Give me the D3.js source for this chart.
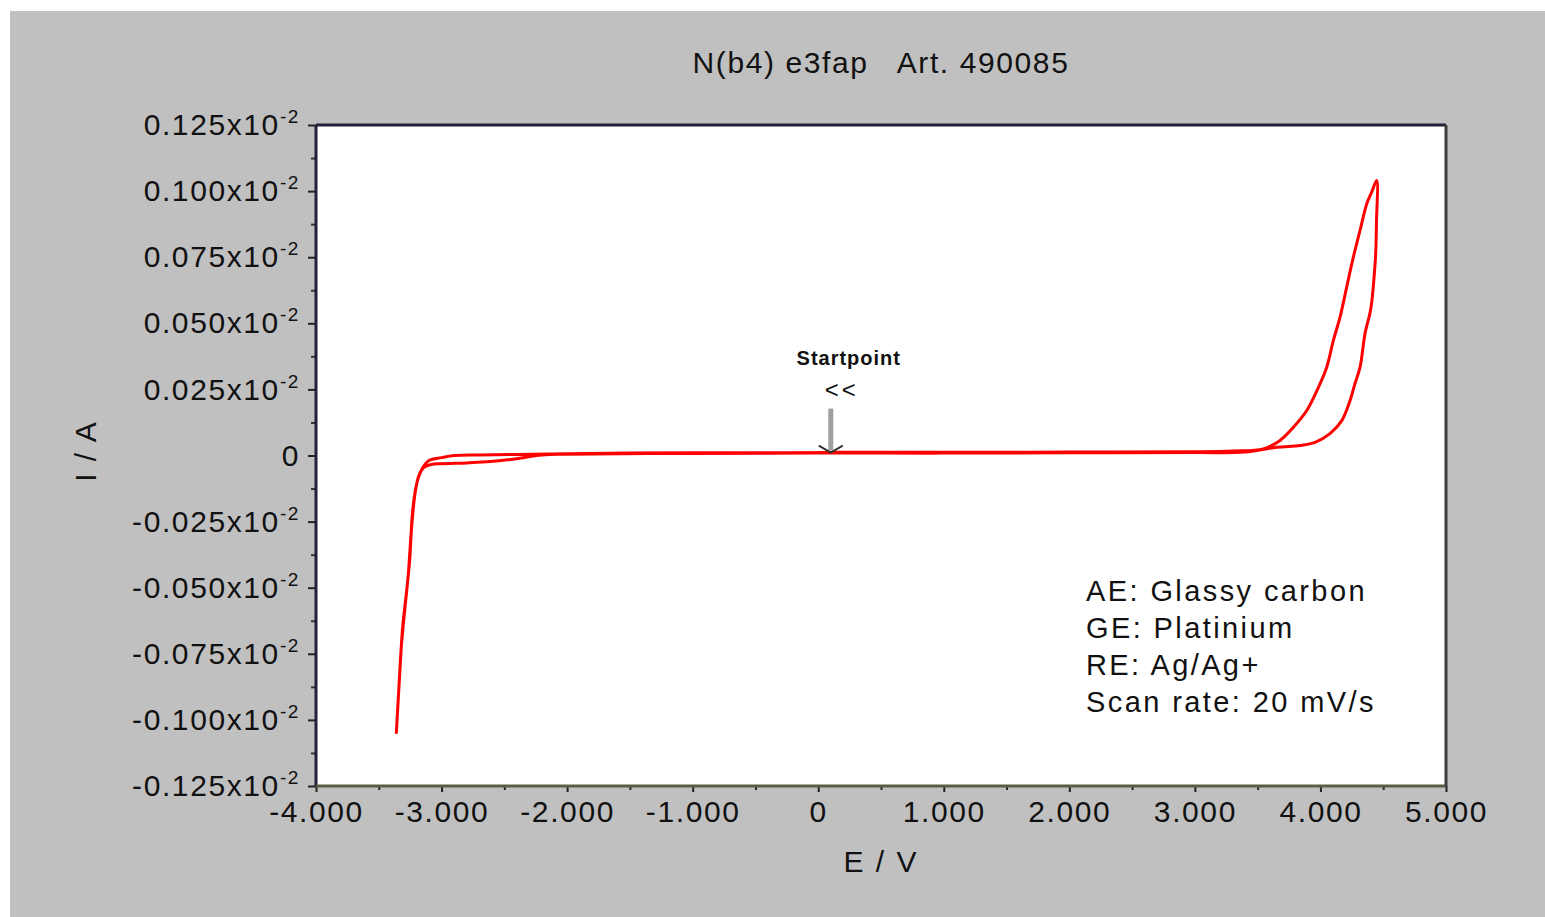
<!DOCTYPE html>
<html>
<head>
<meta charset="utf-8">
<script src="https://cdn.jsdelivr.net/npm/d3@7"></script>
<style>
  body { margin: 0; background: #fff; }
  text { font-family: "Liberation Sans", Arial, sans-serif; fill: #111; }
</style>
</head>
<body>
<script>
// --- data (current in units of 10^-2 A) ---
const title = "N(b4) e3fap   Art. 490085";
const xLabel = "E / V";
const yLabel = "I / A";
const legendLines = ["AE: Glassy carbon", "GE: Platinium", "RE: Ag/Ag+", "Scan rate: 20 mV/s"];
const startLabel = "Startpoint";
const startE = 0.1;

const xTicks = [-4, -3, -2, -1, 0, 1, 2, 3, 4, 5];
const yTicks = [-0.125, -0.1, -0.075, -0.05, -0.025, 0, 0.025, 0.05, 0.075, 0.1, 0.125];

// potential (V) along the sweep: start -> cathodic vertex -> anodic vertex -> start
const potential = [
  0.1, -0.5, -1.0, -1.5, -2.0, -2.4, -2.7, -2.9, -3.0, -3.1, -3.155, -3.195, -3.23, -3.254, -3.28, -3.31, -3.33, -3.36,
  -3.34, -3.32, -3.29, -3.265, -3.24, -3.21, -3.18, -3.14, -3.08, -3.01, -2.8, -2.67, -2.45, -2.2, -2.0, -1.0, 0, 1.0, 2.0, 3.0, 3.4,
  3.652, 3.838, 3.957, 4.076, 4.17, 4.236, 4.275, 4.315, 4.355, 4.395, 4.41, 4.425, 4.44, 4.446, 4.448,
  4.408, 4.369, 4.315, 4.262, 4.209, 4.156, 4.103, 4.05, 3.984, 3.891, 3.785, 3.678, 3.545, 3.3, 3.0, 2.0, 1.0, 0.1
];
const current = [
  0.0011, 0.0010, 0.0010, 0.0009, 0.0007, 0.0004, 0.0002, 0.0000, -0.0008, -0.0019, -0.0050, -0.0101, -0.0208, -0.0397, -0.052, -0.065, -0.080, -0.1048,
  -0.088, -0.072, -0.057, -0.045, -0.028, -0.014, -0.0075, -0.0045, -0.0034, -0.0031, -0.0028, -0.0025, -0.0015, 0.0002, 0.0005, 0.0008, 0.0009, 0.0009, 0.0010, 0.0011, 0.0013,
  0.0031, 0.0038, 0.0050, 0.0083, 0.0132, 0.0208, 0.0272, 0.0333, 0.0461, 0.0540, 0.0586, 0.0662, 0.0764, 0.0880, 0.1040,
  0.0996, 0.0952, 0.0851, 0.0750, 0.0637, 0.0523, 0.0435, 0.0334, 0.0258, 0.0170, 0.0107, 0.0057, 0.0025, 0.0017, 0.0014, 0.0013, 0.0012, 0.0012
];

// --- canvas ---
const canvWidth = 1545, canvHeight = 917;
const margin = {top: 125, right: 99, bottom: 131, left: 316};
const width = canvWidth - margin.left - margin.right;
const height = canvHeight - margin.top - margin.bottom;

const svg = d3.select("body").append("svg")
    .attr("width", canvWidth)
    .attr("height", canvHeight);

// grey panel
svg.append("rect")
    .attr("x", 10).attr("y", 11)
    .attr("width", canvWidth - 10).attr("height", canvHeight - 11)
    .attr("fill", "#c0c0c0");

const g = svg.append("g")
    .attr("transform", "translate(" + margin.left + "," + margin.top + ")");

// plot area
g.append("rect")
    .attr("width", width).attr("height", height)
    .attr("fill", "#fff");

const xScale = d3.scaleLinear().domain([-4, 5]).range([0, width]);
const yScale = d3.scaleLinear().domain([-0.125, 0.125]).range([height, 0]);

// minor ticks
g.append("g")
    .call(d3.axisLeft(yScale).tickValues(d3.range(-0.1125, 0.125, 0.025)).tickSize(5).tickFormat(""))
    .call(a => a.select(".domain").remove())
    .selectAll("line").attr("stroke", "#333").attr("stroke-width", 2);
g.append("g")
    .attr("transform", "translate(0," + height + ")")
    .call(d3.axisBottom(xScale).tickValues(d3.range(-3.5, 5, 1)).tickSize(4).tickFormat(""))
    .call(a => a.select(".domain").remove())
    .selectAll("line").attr("stroke", "#222").attr("stroke-width", 2);

// y axis
const yAxis = g.append("g")
    .call(d3.axisLeft(yScale).tickValues(yTicks).tickSize(8).tickPadding(8));
yAxis.select(".domain").remove();
yAxis.selectAll("line").attr("stroke", "#222").attr("stroke-width", 2);
yAxis.selectAll("text")
    .attr("font-size", 30)
    .attr("fill", "#111")
    .style("letter-spacing", "1.6px")
    .attr("font-family", null)
    .each(function(d) {
        const t = d3.select(this).text(null);
        if (Math.abs(d) < 1e-9) { t.text("0"); return; }
        t.append("tspan").text(d.toFixed(3) + "x10");
        t.append("tspan").attr("font-size", 19).attr("dy", -12).text("-2");
    });

// x axis
const xAxis = g.append("g")
    .attr("transform", "translate(0," + height + ")")
    .call(d3.axisBottom(xScale).tickValues(xTicks).tickSize(6).tickPadding(9)
        .tickFormat(d => d === 0 ? "0" : d.toFixed(3)));
xAxis.select(".domain").remove();
xAxis.selectAll("line").attr("stroke", "#222").attr("stroke-width", 2);
xAxis.selectAll("text")
    .attr("font-size", 30)
    .attr("fill", "#111")
    .attr("font-family", null)
    .style("letter-spacing", "1.6px");

// frame
g.append("line").attr("x1", 0).attr("x2", width).attr("y1", 0).attr("y2", 0)
    .attr("stroke", "#20203a").attr("stroke-width", 3);
g.append("line").attr("x1", 0).attr("x2", 0).attr("y1", 0).attr("y2", height)
    .attr("stroke", "#20203a").attr("stroke-width", 3);
g.append("line").attr("x1", 0).attr("x2", width).attr("y1", height).attr("y2", height)
    .attr("stroke", "#5e5c44").attr("stroke-width", 3);
g.append("line").attr("x1", width).attr("x2", width).attr("y1", 0).attr("y2", height)
    .attr("stroke", "#3a3f3a").attr("stroke-width", 3);

// CV curve
const line = d3.line()
    .x((d, i) => xScale(potential[i]))
    .y((d, i) => yScale(current[i]))
    .curve(d3.curveCatmullRom.alpha(0.5));
g.append("path")
    .datum(potential)
    .attr("fill", "none")
    .attr("stroke", "#ff0000")
    .attr("stroke-width", 3)
    .attr("stroke-linejoin", "round")
    .attr("d", line);

// start point annotation
const sx = xScale(startE), sy = yScale(current[0]);
g.append("line")
    .attr("x1", sx).attr("x2", sx).attr("y1", sy - 44).attr("y2", sy - 2)
    .attr("stroke", "#a0a0a0").attr("stroke-width", 5);
g.append("path")
    .attr("d", "M" + (sx - 12) + "," + (sy - 7) + "L" + sx + "," + (sy) + "L" + (sx + 12) + "," + (sy - 7))
    .attr("fill", "none").attr("stroke", "#333").attr("stroke-width", 2);
g.append("text")
    .attr("x", sx + 18).attr("y", sy - 88)
    .attr("text-anchor", "middle")
    .attr("font-size", 20).attr("font-weight", "bold")
    .style("letter-spacing", "1px")
    .text(startLabel);
g.append("text")
    .attr("x", sx + 11).attr("y", sy - 55)
    .attr("text-anchor", "middle")
    .attr("font-size", 24)
    .style("letter-spacing", "3px")
    .text("<<");

// legend text
g.selectAll(".legend")
    .data(legendLines)
    .enter().append("text")
    .attr("class", "legend")
    .attr("x", 770)
    .attr("y", (d, i) => 476 + i * 37)
    .attr("font-size", 29)
    .style("letter-spacing", "2.4px")
    .text(d => d);

// title
svg.append("text")
    .attr("x", margin.left + width / 2)
    .attr("y", 73)
    .attr("text-anchor", "middle")
    .attr("font-size", 30)
    .style("letter-spacing", "1.6px")
    .style("white-space", "pre")
    .text(title);

// axis labels
g.append("text")
    .attr("x", width / 2)
    .attr("y", height + 86)
    .attr("text-anchor", "middle")
    .attr("font-size", 30)
    .style("letter-spacing", "2px")
    .text(xLabel);
svg.append("text")
    .attr("transform", "translate(96,451) rotate(-90)")
    .attr("text-anchor", "middle")
    .attr("font-size", 30)
    .style("letter-spacing", "2px")
    .text(yLabel);
</script>
</body>
</html>
